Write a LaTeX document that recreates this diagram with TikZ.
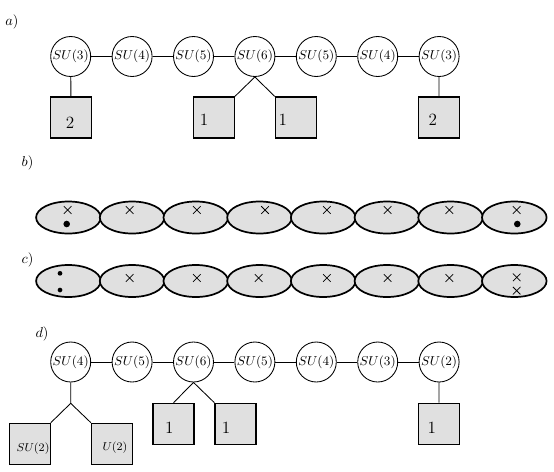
\documentclass[tikz,border=0pt]{standalone}
\usetikzlibrary{shapes.geometric,shapes.misc}
\definecolor{boxfill}{gray}{0.88}
\begin{document}
\begin{tikzpicture}[x=0.7pt,y=-0.7pt,
  gnode/.style={circle,draw,line width=0.6pt,minimum size=28pt,inner sep=0pt,font=\small},
  fbox/.style={rectangle,draw,line width=0.8pt,fill=boxfill,minimum size=28.7pt,inner sep=0pt},
  flab/.style={font=\large,inner sep=0pt},
  slab/.style={font=\footnotesize,inner sep=0pt},
  edge/.style={line width=0.6pt},
  blob/.style={ellipse,draw,line width=1.2pt,fill=boxfill,minimum width=45.2pt,minimum height=22.4pt,inner sep=0pt},
  xmark/.style={cross out,draw,line width=0.5pt,minimum size=4.8pt,inner sep=0pt},
  bigdot/.style={circle,fill,inner sep=0pt,minimum size=4.6pt},
  smalldot/.style={circle,fill,inner sep=0pt,minimum size=3.3pt},
  plab/.style={inner sep=0pt}]
\useasboundingbox (0,0) rectangle (554,471);

% panel labels
\node[plab] (la) at (12,22) {$a)$};
\node[plab] (lb) at (27.5,163) {$b)$};
\node[plab] (lc) at (27.5,260) {$c)$};
\node[plab] (ld) at (42,334) {$d)$};

% ---------- a) ----------
\foreach \i/\t in {1/3,2/4,3/5,4/6,5/5,6/4,7/3}
  \node[gnode] (a\i) at ({70.7+61.4*(\i-1)},56.5) {$SU(\t)$};
\foreach \i/\j in {1/2,2/3,3/4,4/5,5/6,6/7}
  \draw[edge] (a\i) -- (a\j);
\node[fbox] (qa1) at (71,117.5) {};
\node[fbox] (qa2) at (213.8,117.5) {};
\node[fbox] (qa3) at (295.8,117.5) {};
\node[fbox] (qa4) at (439,117.5) {};
\node[flab] (ta1) at (70,122.5) {2};
\node[flab] (ta2) at (204,120) {1};
\node[flab] (ta3) at (282.7,120) {1};
\node[flab] (ta4) at (432.7,120) {2};
\draw[edge] (a1) -- (qa1);
\draw[edge] (a7) -- (qa4);
\draw[edge] (a4.south) -- (qa2.north east);
\draw[edge] (a4.south) -- (qa3.north west);

% ---------- b) ----------
\foreach \i in {1,...,8}
  \node[blob] (b\i) at ({68.4+63.7*(\i-1)},217.5) {};
\foreach \i/\x in {1/67.7,2/129.7,3/196.8,4/265,5/326.9,6/387.6,7/449.3,8/516.7}
  \node[xmark] (bx\i) at (\x,210) {};
\node[bigdot] (bd1) at (66.7,224) {};
\node[bigdot] (bd8) at (517.3,224) {};

% ---------- c) ----------
\foreach \i in {1,...,8}
  \node[blob] (c\i) at ({68.4+63.7*(\i-1)},281) {};
\foreach \i/\x in {2/129.7,3/196.8,4/258.7,5/326.9,6/387.6,7/449.3}
  \node[xmark] (cx\i) at (\x,278) {};
\node[xmark] (cx8a) at (516.7,277.3) {};
\node[xmark] (cx8b) at (516.7,290.7) {};
\node[smalldot] (cd1) at (60,273.3) {};
\node[smalldot] (cd2) at (60,290) {};

% ---------- d) ----------
\foreach \i/\t in {1/4,2/5,3/6,4/5,5/4,6/3,7/2}
  \node[gnode] (d\i) at ({70.7+61.4*(\i-1)},362) {$SU(\t)$};
\foreach \i/\j in {1/2,2/3,3/4,4/5,5/6,6/7}
  \draw[edge] (d\i) -- (d\j);
\node[fbox] (qd1) at (29.7,443.8) {};
\node[fbox] (qd2) at (112,443.8) {};
\node[fbox] (qd3) at (173.5,423.8) {};
\node[fbox] (qd4) at (235.5,423.8) {};
\node[fbox] (qd5) at (439,423.8) {};
\node[slab] (td1) at (33,449) {$SU(2)$};
\node[slab] (td2) at (115,447.7) {$U(2)$};
\node[flab] (td3) at (169.3,428) {1};
\node[flab] (td4) at (226,428) {1};
\node[flab] (td5) at (431.8,428) {1};
\coordinate (j) at (70.7,403.3);
\draw[edge] (d1.south) -- (j) -- (qd1.north east);
\draw[edge] (j) -- (qd2.north west);
\draw[edge] (d3.south) -- (qd3.north);
\draw[edge] (d3.south) -- (qd4.north west);
\draw[edge] (d7) -- (qd5);
\end{tikzpicture}
\end{document}
